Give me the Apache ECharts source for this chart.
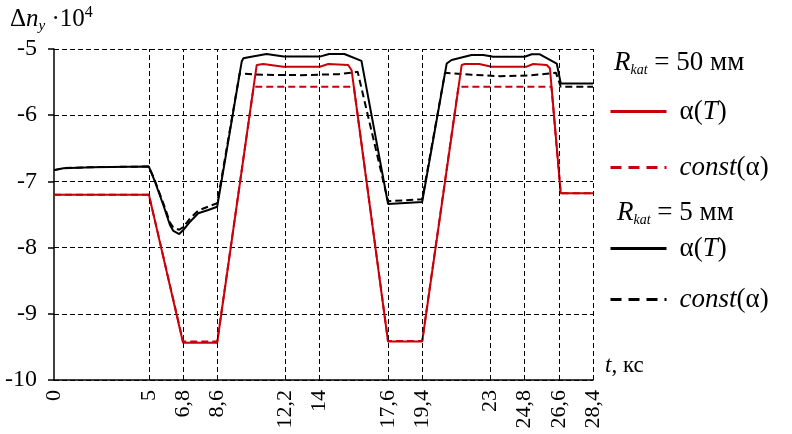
<!DOCTYPE html>
<html><head><meta charset="utf-8">
<script src="https://cdn.jsdelivr.net/npm/echarts@6/dist/echarts.min.js"></script>
<style>html,body{margin:0;padding:0;background:#fff}#c{width:792px;height:434px}</style>
</head><body><div id="c"></div>
<script>
const xTicks = [0, 5, 6.8, 8.6, 12.2, 14, 17.6, 19.4, 23, 24.8, 26.6, 28.4];
const gridX = [5, 6.8, 8.6, 12.2, 14, 17.6, 19.4, 23, 24.8, 26.6, 28.4];

const redSolid = [[0,-7.2],[5,-7.2],[6.8,-9.437],[8.6,-9.437],[10.68,-5.242],[11.03,-5.227],[12.08,-5.267],[14.01,-5.267],[14.45,-5.227],[15.5,-5.242],[15.68,-5.32],[17.6,-9.42],[19.4,-9.42],[21.48,-5.242],[21.65,-5.227],[22.4,-5.227],[23.06,-5.267],[24.9,-5.267],[25.25,-5.227],[25.96,-5.242],[26.13,-5.29],[26.7,-7.18],[28.4,-7.18]];
const redDashed = [[0,-7.2],[5,-7.2],[6.8,-9.42],[8.6,-9.42],[10.52,-5.57],[15.8,-5.57],[17.6,-9.41],[19.4,-9.41],[21.31,-5.57],[26.21,-5.57],[26.7,-7.18],[28.4,-7.18]];
const blackSolid = [[0,-6.83],[0.5,-6.8],[2,-6.785],[5,-6.775],[5.32,-7.005],[5.76,-7.357],[6.11,-7.659],[6.29,-7.749],[6.6,-7.795],[6.81,-7.734],[7.17,-7.609],[7.6,-7.482],[8.13,-7.432],[8.6,-7.382],[9.89,-5.19],[9.98,-5.14],[10.25,-5.125],[11.2,-5.075],[12.1,-5.115],[14.0,-5.115],[14.5,-5.075],[15.3,-5.075],[16.2,-5.18],[17.6,-7.34],[19.4,-7.31],[20.69,-5.22],[20.95,-5.166],[22.0,-5.09],[22.62,-5.09],[23.15,-5.116],[24.8,-5.116],[25.17,-5.08],[25.6,-5.08],[26.49,-5.22],[26.7,-5.52],[28.4,-5.52]];
const blackDashed = [[0,-6.83],[0.5,-6.8],[2,-6.785],[5,-6.775],[5.32,-6.99],[5.76,-7.33],[6.11,-7.62],[6.29,-7.70],[6.6,-7.73],[6.81,-7.69],[7.17,-7.56],[7.6,-7.44],[8.13,-7.38],[8.6,-7.33],[9.78,-5.37],[11,-5.39],[13,-5.395],[15,-5.38],[16.0,-5.345],[17.6,-7.30],[19.4,-7.27],[20.6,-5.36],[22,-5.39],[23.5,-5.41],[25,-5.40],[26.45,-5.36],[26.7,-5.57],[28.4,-5.57]];

const RED = '#c8000a';
const BLACK = '#000';
const SERIF = '"Liberation Serif", "DejaVu Serif", serif';

const chart = echarts.init(document.getElementById('c'), null, {renderer: 'canvas'});
const legendRich = {
  a: {fontFamily: SERIF, fontSize: 27, color: '#000'},
  i: {fontFamily: SERIF, fontSize: 27, fontStyle: 'italic', color: '#000'}
};
function legendFmt(name) {
  if (name.indexOf('const') === 0) return '{i|const}{a|(α)}';
  return '{a|α(}{i|T}{a|)}';
}
function mkLegend(name, top, dashed) {
  return {
    data: [name], left: 604, top: top, orient: 'vertical',
    itemWidth: 56, itemHeight: 20, itemGap: 0, selectedMode: false,
    itemStyle: {color: 'transparent', borderColor: 'transparent', borderWidth: 0, opacity: 0},
    lineStyle: {width: 3, type: dashed ? [11, 7] : 'solid'},
    formatter: legendFmt, textStyle: {rich: legendRich, padding: [0, 0, 0, 8]}
  };
}
function line(name, data, color, dashed, z) {
  return {
    name: name, type: 'line', data: data, symbol: 'none', z: z, silent: true,
    lineStyle: {color: color, width: 2, type: dashed ? [7, 4] : 'solid'},
    itemStyle: {color: color}
  };
}
const hdrRich = {
  a: {fontFamily: SERIF, fontSize: 27, color: '#000'},
  i: {fontFamily: SERIF, fontSize: 27, fontStyle: 'italic', color: '#000'},
  s: {fontFamily: SERIF, fontSize: 14, fontStyle: 'italic', color: '#000', padding: [16, 0, 0, 0]}
};
chart.setOption({
  animation: false,
  backgroundColor: '#fff',
  grid: {left: 54, right: 199, top: 49, bottom: 54, containLabel: false},
  xAxis: {
    type: 'value', min: 0, max: 28.4,
    axisLine: {show: true, onZero: false, lineStyle: {color: '#000', width: 1.5}},
    axisTick: {show: false},
    splitLine: {show: false},
    axisLabel: {
      customValues: xTicks, rotate: 90, margin: 10, showMinLabel: true, showMaxLabel: true, hideOverlap: false,
      fontFamily: SERIF, fontSize: 22, color: '#000',
      formatter: v => String(v).replace('.', ',')
    }
  },
  yAxis: {
    type: 'value', min: -10, max: -5, interval: 1,
    axisLine: {show: true, onZero: false, lineStyle: {color: '#000', width: 1.5}},
    axisTick: {show: true, inside: false, length: 6, lineStyle: {color: '#000', width: 1.5}},
    splitLine: {show: true, lineStyle: {color: '#000', width: 1, type: [5, 3]}},
    axisLabel: {margin: 17, fontFamily: SERIF, fontSize: 24, color: '#000'}
  },
  legend: [
    mkLegend('α(T) 50', 93, false),
    mkLegend('const(α) 50', 149, true),
    mkLegend('α(T) 5', 230, false),
    mkLegend('const(α) 5', 281, true)
  ],
  graphic: [
    {type: 'text', left: 10, top: 5, style: {
      text: '{a|Δ}{i|n}{s|y}{a| ·10}{p|4}',
      rich: {
        a: {fontFamily: SERIF, fontSize: 25, color: '#000'},
        i: {fontFamily: SERIF, fontSize: 25, fontStyle: 'italic', color: '#000'},
        s: {fontFamily: SERIF, fontSize: 15, fontStyle: 'italic', color: '#000', padding: [15, 0, 0, 0]},
        p: {fontFamily: SERIF, fontSize: 16, color: '#000', padding: [0, 0, 12, 0]}
      }
    }},
    {type: 'text', left: 605, top: 354, style: {
      text: '{i|t}{a|, кс}',
      rich: {
        a: {fontFamily: SERIF, fontSize: 23, color: '#000'},
        i: {fontFamily: SERIF, fontSize: 23, fontStyle: 'italic', color: '#000'}
      }
    }},
    {type: 'text', left: 614, top: 49, style: {text: '{i|R}{s|kat}{a| = 50 мм}', rich: hdrRich}},
    {type: 'text', left: 617, top: 199, style: {text: '{i|R}{s|kat}{a| = 5 мм}', rich: hdrRich}}
  ],
  series: [
    {
      name: 'grid', type: 'line', data: [], z: 1, silent: true,
      markLine: {
        silent: true, symbol: ['none', 'none'], label: {show: false},
        lineStyle: {color: '#000', width: 1, type: [5, 3]},
        data: gridX.map(v => ({xAxis: v}))
      }
    },
    line('α(T) 5', blackSolid, BLACK, false, 3),
    line('const(α) 5', blackDashed, BLACK, true, 3),
    line('α(T) 50', redSolid, RED, false, 4),
    line('const(α) 50', redDashed, RED, true, 4)
  ]
});
</script></body></html>
